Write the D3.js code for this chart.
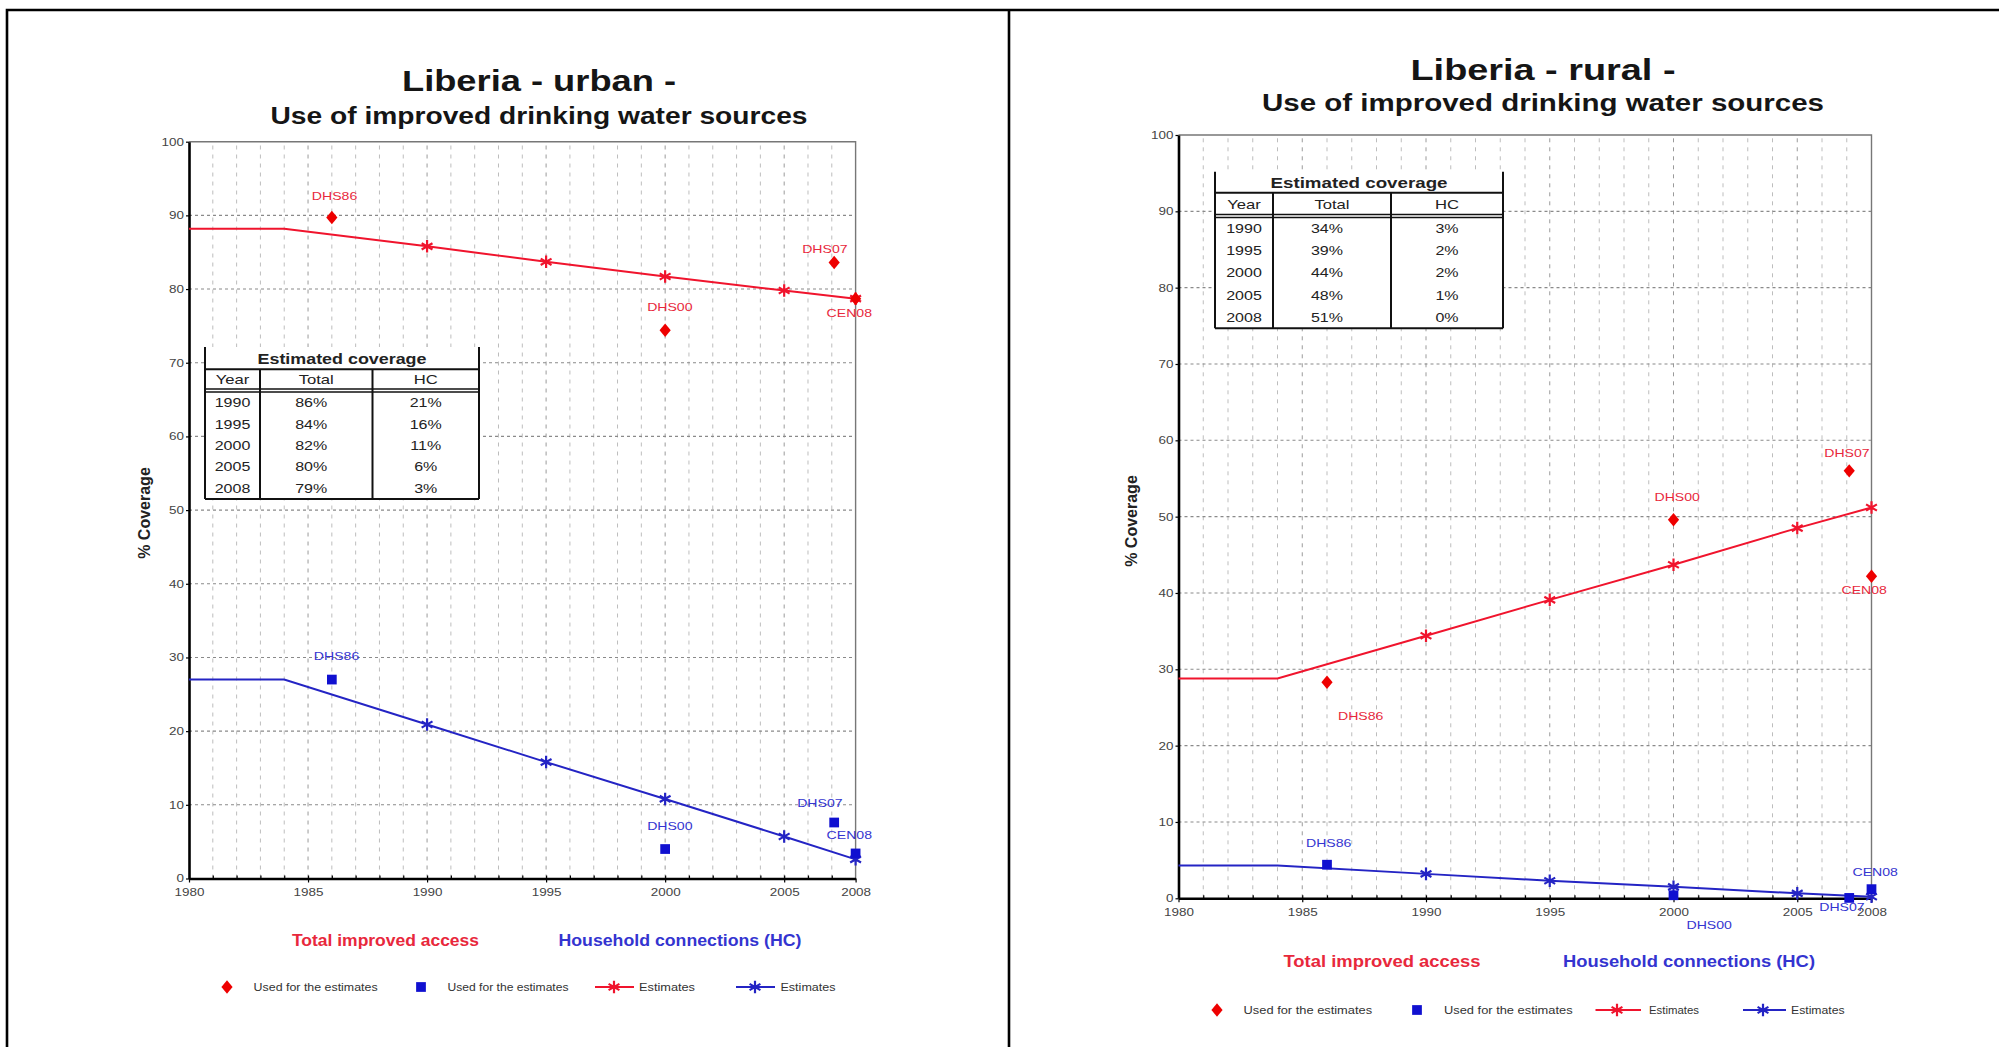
<!DOCTYPE html>
<html><head><meta charset="utf-8">
<script src="https://cdn.jsdelivr.net/npm/d3@7"></script>
<style>
body{margin:0;background:#fff}
svg{display:block}
text{font-family:"Liberation Sans",Arial,sans-serif}
</style>
</head><body>
<svg id="c" width="1999" height="1047"></svg>
<script>
// ---------------- data ----------------
const estYears = [1980, 1984, 1990, 1995, 2000, 2005, 2008];
const markerIdx = [2, 3, 4, 5, 6]; // estimates shown with markers: 1990..2008
const urbanTotalEst = [88.2, 88.2, 85.8, 83.7, 81.7, 79.8, 78.7];
const urbanHcEst = [27.0, 27.0, 20.9, 15.8, 10.8, 5.7, 2.6];
const ruralTotalEst = [28.8, 28.8, 34.4, 39.1, 43.7, 48.5, 51.2];
const ruralHcEst = [4.3, 4.3, 3.2, 2.3, 1.5, 0.65, 0.2];

const surveyYears = [1986, 2000, 2007.1, 2008];
const surveyLabels = ["DHS86", "DHS00", "DHS07", "CEN08"];
const urbanTotalSurvey = [89.7, 74.4, 83.6, 78.7];
const urbanHcSurvey = [27.0, 4.0, 7.6, 3.4];
const ruralTotalSurvey = [28.3, 49.6, 56.0, 42.2];
const ruralHcSurvey = [4.4, 0.4, 0.05, 1.2];

const tableYears = ["1990", "1995", "2000", "2005", "2008"];
const urbanTableTotal = ["86%", "84%", "82%", "80%", "79%"];
const urbanTableHC = ["21%", "16%", "11%", "6%", "3%"];
const ruralTableTotal = ["34%", "39%", "44%", "48%", "51%"];
const ruralTableHC = ["3%", "2%", "2%", "1%", "0%"];

const xTicks = [1980, 1985, 1990, 1995, 2000, 2005, 2008];
const yTicks = [0, 10, 20, 30, 40, 50, 60, 70, 80, 90, 100];

// ---------------- styles ----------------
const RED = "#f0142d", RED_TXT = "#e8283c";
const BLUE = "#2424c4", BLUE_TXT = "#3434d0";
const STRETCH = 1.28;

const svg = d3.select("#c");

function T(g, x, y, s, o) {
  const t = g.append("text").attr("x", x).attr("y", y).text(s)
    .attr("font-size", o.size).attr("fill", o.fill || "#222")
    .attr("font-weight", o.bold ? "bold" : "normal")
    .attr("text-anchor", o.anchor || "start");
  if (o.rotate) t.attr("transform", `rotate(${o.rotate},${x},${y})`);
  const w = o.width || t.node().getComputedTextLength() * (o.stretch ?? STRETCH);
  t.attr("textLength", w).attr("lengthAdjust", "spacingAndGlyphs");
  return t;
}

// outer frame
svg.append("path").attr("d", "M7,1047 V10 H1999 M1009,10 V1047")
  .attr("fill", "none").attr("stroke", "#000").attr("stroke-width", 2.6);

const asterisk = d3.symbol().type(d3.symbolAsterisk).size(110);
const diamond = d3.symbol().type(d3.symbolDiamond2).size(80);
const square = d3.symbol().type(d3.symbolSquare).size(95);
const DIA_T = " scale(1,1.2)";

function panel(c) {
  const g = svg.append("g");
  const x = d3.scaleLinear().domain([1980, 2008]).range([c.x0, c.x1]);
  const y = d3.scaleLinear().domain([0, 100]).range([c.yBot, c.yTop]);

  // titles
  T(g, c.titleX, c.titleY, c.title, {size: 30, bold: true, anchor: "middle", width: c.titleW, fill: "#151515"});
  T(g, c.titleX, c.subY, "Use of improved drinking water sources", {size: 23, bold: true, anchor: "middle", width: c.subW, fill: "#151515"});

  // grid
  g.append("g").selectAll("line").data(d3.range(1981, 2008)).join("line")
    .attr("x1", d => x(d)).attr("x2", d => x(d)).attr("y1", y(0)).attr("y2", y(100))
    .attr("stroke", d => d % 5 === 0 ? "#9a9a9a" : "#bdbdbd")
    .attr("stroke-dasharray", "4,5").attr("stroke-width", 1);
  g.append("g").selectAll("line").data(yTicks.filter(v => v > 0 && v < 100)).join("line")
    .attr("x1", x(1980)).attr("x2", x(2008)).attr("y1", d => y(d)).attr("y2", d => y(d))
    .attr("stroke", "#8a8a8a").attr("stroke-dasharray", "3,3").attr("stroke-width", 1.1);
  // frame top/right
  g.append("path").attr("d", `M${x(1980)},${y(100)} H${x(2008)} V${y(0)}`)
    .attr("fill", "none").attr("stroke", "#777").attr("stroke-width", 1.4);

  // table
  const tb = c.table, tg = g.append("g");
  tg.append("rect").attr("x", tb.l).attr("y", tb.t).attr("width", tb.r - tb.l).attr("height", tb.b - tb.t).attr("fill", "#fff");
  const ln = (x1, y1, x2, y2, w) => tg.append("line").attr("x1", x1).attr("y1", y1).attr("x2", x2).attr("y2", y2)
    .attr("stroke", "#111").attr("stroke-width", w || 2);
  ln(tb.l, tb.t, tb.l, tb.b); ln(tb.r, tb.t, tb.r, tb.b); ln(tb.l, tb.b, tb.r, tb.b);
  ln(tb.l, tb.tl, tb.r, tb.tl);
  ln(tb.l, tb.hl, tb.r, tb.hl, 1.6); ln(tb.l, tb.hl + 3, tb.r, tb.hl + 3, 1.6);
  ln(tb.c1, tb.tl, tb.c1, tb.b); ln(tb.c2, tb.tl, tb.c2, tb.b);
  T(tg, (tb.l + tb.r) / 2, tb.tl - 5, "Estimated coverage", {size: 15, bold: true, anchor: "middle", width: tb.tw});
  const hy = (tb.tl + tb.hl) / 2 + 5;
  T(tg, (tb.l + tb.c1) / 2, hy, "Year", {size: 13, anchor: "middle"});
  T(tg, (tb.c1 + tb.c2) / 2, hy, "Total", {size: 13, anchor: "middle"});
  T(tg, (tb.c2 + tb.r) / 2, hy, "HC", {size: 13, anchor: "middle"});
  const rh = (tb.b - tb.hl - 3) / tableYears.length;
  tableYears.forEach((yr, i) => {
    const ry = tb.hl + 3 + rh * (i + 0.5) + 4.5;
    T(tg, (tb.l + tb.c1) / 2, ry, yr, {size: 12.5, anchor: "middle"});
    T(tg, (tb.c1 + tb.c2) / 2 - 5, ry, c.tTotal[i], {size: 12.5, anchor: "middle"});
    T(tg, (tb.c2 + tb.r) / 2, ry, c.tHC[i], {size: 12.5, anchor: "middle"});
  });

  // axes
  const ya = g.append("g").attr("transform", `translate(${x(1980)},0)`)
    .call(d3.axisLeft(y).tickValues(yTicks).tickSize(3).tickSizeOuter(0).tickPadding(2));
  const xa = g.append("g").attr("transform", `translate(0,${y(0)})`)
    .call(d3.axisBottom(x).tickValues(xTicks).tickFormat(d3.format("d")).tickSize(4).tickSizeOuter(0).tickPadding(c.xPad));
  const xm = g.append("g").attr("transform", `translate(0,${y(0)})`)
    .call(d3.axisTop(x).tickValues(d3.range(1981, 2008)).tickFormat("").tickSize(3).tickSizeOuter(0));
  [ya, xa, xm].forEach(a => {
    a.select(".domain").attr("stroke", "#000").attr("stroke-width", 2.6);
    a.selectAll(".tick line").attr("stroke", "#000").attr("stroke-width", 1.2);
  });
  xm.select(".domain").remove();
  [ya, xa].forEach(a => a.selectAll(".tick text").each(function () {
    const t = d3.select(this).attr("font-size", 10.5).attr("fill", "#444")
      .attr("font-family", '"Liberation Sans",Arial,sans-serif');
    t.attr("textLength", this.getComputedTextLength() * STRETCH).attr("lengthAdjust", "spacingAndGlyphs");
  }));

  T(g, c.ylabX, c.ylabY, "% Coverage", {size: 16, bold: true, anchor: "middle", rotate: -90, stretch: 1, fill: "#222"});

  // estimate lines
  const line = d3.line().x((d, i) => x(estYears[i])).y(d => y(d));
  const drawEst = (vals, col) => {
    g.append("path").datum(vals).attr("d", line).attr("fill", "none").attr("stroke", col).attr("stroke-width", 2);
    g.append("g").selectAll("path").data(markerIdx).join("path")
      .attr("d", asterisk).attr("transform", i => `translate(${x(estYears[i])},${y(vals[i])})`)
      .attr("fill", "none").attr("stroke", col).attr("stroke-width", 2.2);
  };
  drawEst(c.totEst, RED);
  drawEst(c.hcEst, BLUE);

  // surveys
  const drawSurv = (vals, sym, col, tcol, offs, extra) => {
    const sg = g.append("g");
    sg.selectAll("path").data(vals).join("path").attr("d", sym)
      .attr("transform", (d, i) => `translate(${x(surveyYears[i])},${y(d)})` + extra).attr("fill", col);
    vals.forEach((d, i) => T(sg, x(surveyYears[i]) + offs[i][0], y(d) + offs[i][1], surveyLabels[i], {size: 11, fill: tcol}));
  };
  drawSurv(c.totSurv, diamond, "#ee0000", RED_TXT, c.totOff, DIA_T);
  drawSurv(c.hcSurv, square, "#1010d0", BLUE_TXT, c.hcOff, "");

  // legend
  const L = c.leg, lg = g.append("g");
  T(lg, L.t1x, L.ty, "Total improved access", {size: 16, bold: true, anchor: "middle", width: L.t1w, fill: RED_TXT});
  T(lg, L.t2x, L.ty, "Household connections (HC)", {size: 16, bold: true, anchor: "middle", width: L.t2w, fill: BLUE_TXT});
  lg.append("path").attr("d", diamond).attr("transform", `translate(${L.dX},${L.ry})` + DIA_T).attr("fill", "#ee0000");
  T(lg, L.dT, L.ry + 3.5, "Used for the estimates", {size: 10, width: L.dW, fill: "#333"});
  lg.append("path").attr("d", square).attr("transform", `translate(${L.sX},${L.ry})`).attr("fill", "#1010d0");
  T(lg, L.sT, L.ry + 3.5, "Used for the estimates", {size: 10, width: L.sW, fill: "#333"});
  [[L.r1, L.r2, L.rM, L.rT, L.rW, RED], [L.b1, L.b2, L.bM, L.bT, L.bW, BLUE]].forEach(([a, b, m, tx, tw, col]) => {
    lg.append("line").attr("x1", a).attr("x2", b).attr("y1", L.ry).attr("y2", L.ry).attr("stroke", col).attr("stroke-width", 2);
    lg.append("path").attr("d", asterisk).attr("transform", `translate(${m},${L.ry})`).attr("fill", "none").attr("stroke", col).attr("stroke-width", 2.2);
    T(lg, tx, L.ry + 3.5, "Estimates", {size: 10, width: tw, fill: "#333"});
  });
}

panel({
  title: "Liberia  - urban -", titleX: 539, titleY: 91, titleW: 274, subY: 124, subW: 537,
  x0: 189, x1: 855.6, yTop: 141.7, yBot: 878.5, xPad: 6,
  ylabX: 150, ylabY: 513,
  totEst: urbanTotalEst, hcEst: urbanHcEst, totSurv: urbanTotalSurvey, hcSurv: urbanHcSurvey,
  totOff: [[-20, -18], [-18, -19], [-32, -10], [-29, 18]],
  hcOff: [[-18, -20], [-18, -19], [-37, -16], [-29, -14]],
  tTotal: urbanTableTotal, tHC: urbanTableHC,
  table: {l: 205, r: 479, t: 347, tl: 369.3, hl: 389, b: 499, c1: 260, c2: 372.5, tw: 169},
  leg: {t1x: 385.5, t2x: 680, ty: 946, t1w: 187, t2w: 243, ry: 987,
    dX: 227, dT: 253.6, dW: 124, sX: 421, sT: 447.5, sW: 121,
    r1: 595, r2: 634, rM: 614, rT: 639, rW: 56, b1: 736, b2: 775, bM: 755, bT: 780.5, bW: 55}
});

panel({
  title: "Liberia  - rural -", titleX: 1543, titleY: 80, titleW: 265, subY: 111, subW: 562,
  x0: 1178.5, x1: 1871.5, yTop: 135, yBot: 898.3, xPad: 6,
  ylabX: 1137, ylabY: 521,
  totEst: ruralTotalEst, hcEst: ruralHcEst, totSurv: ruralTotalSurvey, hcSurv: ruralHcSurvey,
  totOff: [[11, 38], [-19, -19], [-25, -13.5], [-30, 18]],
  hcOff: [[-21, -18], [13, 34], [-30, 13], [-19, -13]],
  tTotal: ruralTableTotal, tHC: ruralTableHC,
  table: {l: 1215, r: 1503, t: 171.7, tl: 192.7, hl: 214.5, b: 328.3, c1: 1273, c2: 1391, tw: 177},
  leg: {t1x: 1382, t2x: 1689, ty: 967, t1w: 197, t2w: 252, ry: 1010,
    dX: 1217, dT: 1243.6, dW: 128.5, sX: 1417, sT: 1444, sW: 128.6,
    r1: 1595.5, r2: 1641, rM: 1617, rT: 1649, rW: 50, b1: 1743, b2: 1786, bM: 1763, bT: 1791, bW: 53.6}
});
</script>
</body></html>
